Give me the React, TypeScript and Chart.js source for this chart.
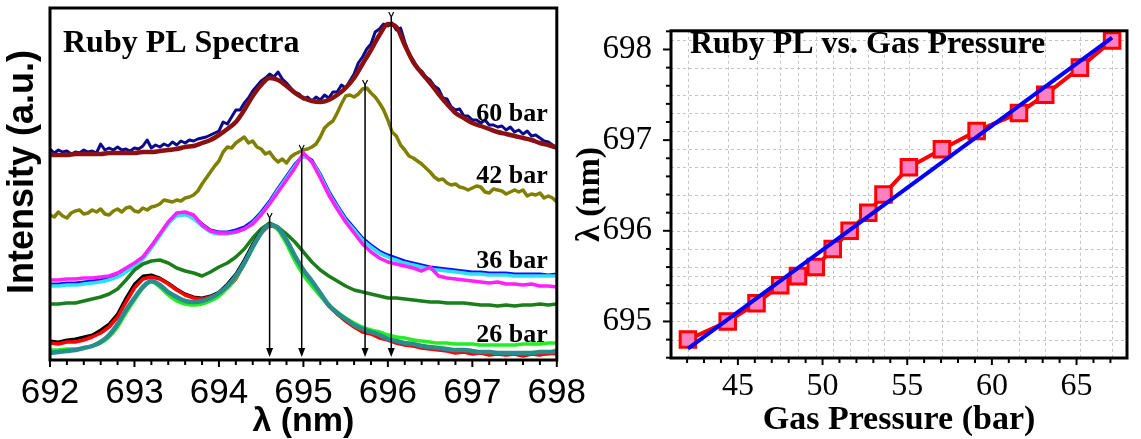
import React, { useEffect, useRef } from 'react';
import { Chart, registerables } from 'chart.js';

Chart.register(...registerables);

// ---------- Left panel: Ruby PL spectra (intensity in arbitrary units) ----------
const LAMBDA_START = 692; // nm, first sample of every spectrum
const STEP_COARSE = 0.1; // nm between samples (61 samples)
const STEP_FINE = 0.05; // nm between samples (121 samples)

// 60 bar: fit (dark red) and measured (navy)
const FIT_60 = [
  205, 205, 205, 206, 206, 206, 206, 207, 207, 207, 207,
  208, 208, 209, 210, 211, 213, 214, 217, 220, 225,
  231, 238, 250, 264, 275, 282, 280, 274, 267, 262,
  259, 258, 260, 265, 272, 282, 296, 310, 325, 336,
  333, 315, 298, 287, 277, 266, 256, 247, 242, 237,
  234, 231, 228, 226, 224, 222, 220, 217, 215, 212,
];
const DATA_60 = [
  211, 207, 210, 208, 209, 206, 208, 207, 210, 208,
  209, 207, 216, 210, 212, 210, 213, 210, 211, 209,
  212, 211, 214, 220, 212, 215, 213, 216, 214, 218,
  215, 219, 217, 220, 219, 221, 222, 223, 225, 227,
  229, 238, 236, 243, 250, 250, 257, 262, 269, 274,
  279, 282, 286, 283, 288, 281, 277, 272, 268, 266,
  261, 263, 259, 263, 260, 265, 262, 268, 268, 275,
  272, 279, 286, 297, 303, 311, 316, 328, 331, 336,
  334, 337, 330, 332, 318, 306, 300, 291, 289, 283,
  280, 274, 271, 262, 261, 253, 250, 251, 244, 244,
  240, 240, 237, 240, 235, 235, 233, 234, 230, 233,
  228, 230, 226, 229, 224, 225, 222, 219, 218, 215,
  213,
];
// 42 bar (olive)
const DATA_42 = [
  145, 143, 148, 144, 142, 147, 149, 150, 146, 147,
  150, 148, 151, 146, 145, 149, 151, 148, 152, 153,
  149, 148, 152, 150, 153, 154, 156, 160, 159, 158,
  160, 159, 162, 163, 165, 169, 176, 182, 188, 194,
  199, 208, 213, 212, 217, 220, 223, 217, 219, 213,
  211, 206, 208, 202, 198, 201, 197, 203, 206, 208,
  210, 211, 213, 216, 223, 232, 236, 239, 247, 256,
  264, 265, 263, 266, 271, 272, 267, 263, 257, 250,
  240, 228, 224, 215, 210, 204, 202, 199, 196, 192,
  188, 183, 180, 181, 177, 175, 176, 173, 172, 170,
  172, 174, 173, 168, 167, 171, 170, 169, 166, 168,
  170, 168, 170, 164, 166, 165, 167, 162, 164, 162,
  158,
];
// 36 bar: magenta, cyan (fit), blue
const DATA_36_MAGENTA = [
  80, 80, 81, 81, 82, 82, 83, 84, 87, 92, 97,
  103, 114, 126, 138, 147, 148, 145, 135, 129, 127,
  127, 128, 131, 136, 145, 156, 168, 180, 192, 207,
  198, 182, 165, 151, 138, 127, 116, 108, 102, 98,
  96, 94, 92, 89, 93, 84, 82, 81, 80, 79,
  78, 77, 78, 76, 76, 75, 76, 74, 74, 73,
];
const FIT_36_CYAN = [
  74, 74, 75, 75, 76, 77, 78, 80, 83, 88, 94,
  101, 112, 124, 136, 144, 145, 141, 134, 128, 126,
  126, 128, 131, 137, 146, 157, 170, 182, 194, 203,
  198, 184, 167, 153, 140, 130, 120, 113, 107, 103,
  100, 97, 95, 93, 91, 90, 89, 88, 87, 86,
  86, 85, 85, 85, 84, 84, 84, 84, 84, 84,
];
const DATA_36_BLUE = [
  76, 76, 77, 77, 78, 79, 80, 82, 85, 90, 96,
  103, 114, 126, 138, 146, 147, 143, 136, 130, 128,
  128, 130, 133, 139, 148, 159, 172, 184, 196, 205,
  200, 186, 169, 155, 142, 132, 122, 115, 109, 105,
  102, 99, 97, 95, 93, 92, 91, 90, 89, 88,
  88, 87, 87, 87, 86, 86, 86, 86, 85, 86,
];
// unlabelled intermediate spectrum (dark green)
const DATA_MID_GREEN = [
  56, 56, 57, 57, 59, 61, 63, 66, 71, 80, 90,
  96, 99, 100, 97, 92, 89, 87, 84, 88, 93,
  97, 103, 111, 122, 131, 137, 133, 126, 118, 108,
  98, 90, 84, 79, 74, 70, 68, 66, 64, 62,
  62, 61, 60, 59, 58, 58, 57, 57, 57, 56,
  55, 55, 54, 55, 54, 55, 55, 56, 55, 56,
];
// 26 bar: teal (fit), light green (fit), red, black
const FIT_26_TEAL = [
  7, 8, 9, 10, 12, 14, 18, 25, 36, 50, 62,
  73, 79, 75, 68, 63, 59, 58, 59, 62, 67,
  74, 84, 97, 113, 127, 135, 132, 120, 104, 90,
  79, 67, 55, 47, 41, 35, 31, 28, 25, 21,
  19, 17, 16, 14, 13, 12, 11, 10, 10, 9,
  8, 8, 7, 7, 7, 7, 7, 8, 8, 9,
];
const FIT_26_GREEN = [
  10, 10, 11, 11, 12, 14, 17, 23, 33, 47, 60,
  72, 78, 73, 65, 59, 56, 55, 56, 59, 64,
  72, 82, 96, 112, 127, 135, 130, 116, 99, 85,
  74, 64, 55, 48, 42, 37, 33, 30, 28, 25,
  23, 22, 20, 19, 18, 17, 17, 16, 16, 16,
  15, 15, 15, 15, 15, 16, 16, 16, 17, 17,
];
const DATA_26_RED = [
  17, 16, 18, 18, 20, 23, 27, 33, 43, 58, 72,
  81, 83, 81, 76, 70, 65, 62, 61, 63, 66,
  72, 81, 96, 113, 127, 135, 132, 120, 104, 90,
  78, 66, 54, 46, 39, 33, 28, 26, 22, 20,
  17, 15, 14, 12, 11, 10, 9, 7, 8, 6,
  7, 5, 6, 5, 6, 4, 6, 5, 7, 6,
];
const DATA_26_BLACK = [
  19, 18, 20, 21, 23, 25, 30, 36, 46, 62, 76,
  84, 85, 82, 77, 71, 66, 63, 62, 64, 68,
  76, 86, 100, 116, 129, 136, 132, 119, 103, 89,
  77, 65, 54, 46, 39, 34, 30, 27, 24, 21,
  19, 17, 15, 13, 12, 11, 10, 9, 9, 8,
  8, 7, 7, 7, 6, 6, 6, 6, 6, 7,
];
// peak positions marked with arrows (nm) and where each arrow starts (intensity)
const PEAK_LAMBDA = [694.6, 694.98, 695.73, 696.04];
const PEAK_TOP = [142, 210, 275, 343];
const SPECTRUM_LABELS = ['60 bar', '42 bar', '36 bar', '26 bar'];
const LABEL_INTENSITY = [239, 177, 92, 18];

// ---------- Right panel: Ruby PL vs gas pressure ----------
const GAS_PRESSURE = [42.05, 44.4, 46.1, 47.5, 48.55, 49.6, 50.6, 51.6, 52.7, 53.6, 55.1, 57.05, 59.1, 61.6, 63.15, 65.2, 67.1];
const PEAK_WAVELENGTH = [694.8, 695.0, 695.2, 695.4, 695.5, 695.6, 695.8, 696.0, 696.2, 696.4, 696.7, 696.9, 697.1, 697.3, 697.5, 697.8, 698.1];
const FIT_PRESSURE = [42.05, 67.1];
const FIT_WAVELENGTH = [694.7, 698.13];

const SANS = '"Liberation Sans", Arial, sans-serif';
const SERIF = '"Liberation Serif", "Times New Roman", serif';

const lambdaAt = (i: number, step: number) => Math.round((LAMBDA_START + i * step) * 100) / 100;
const toXY = (vals: number[], step: number) => vals.map((v, i) => ({ x: lambdaAt(i, step), y: v }));

const line = (vals: number[], step: number, color: string, width: number, smooth: boolean) => ({
  data: toXY(vals, step),
  borderColor: color,
  backgroundColor: color,
  borderWidth: width,
  pointRadius: 0,
  fill: false,
  borderJoinStyle: 'round' as const,
  borderCapStyle: 'round' as const,
  tension: smooth ? 0.4 : 0,
  cubicInterpolationMode: smooth ? ('monotone' as const) : ('default' as const),
});

const leftPlugin = {
  id: 'leftDecor',
  afterDatasetsDraw(chart: any) {
    const { ctx, chartArea: a, scales } = chart;
    const xs = scales.x;
    const ys = scales.y;
    ctx.save();
    ctx.strokeStyle = '#000';
    ctx.fillStyle = '#000';
    PEAK_LAMBDA.forEach((lam, i) => {
      const x = xs.getPixelForValue(lam);
      const yTop = ys.getPixelForValue(PEAK_TOP[i]);
      const yTip = a.bottom - 3;
      ctx.lineWidth = 1.5;
      ctx.beginPath();
      ctx.moveTo(x, yTop);
      ctx.lineTo(x, yTip - 6);
      ctx.stroke();
      ctx.beginPath();
      ctx.moveTo(x - 3.5, yTip - 9);
      ctx.lineTo(x + 3.5, yTip - 9);
      ctx.lineTo(x, yTip);
      ctx.closePath();
      ctx.fill();
      ctx.lineWidth = 1.2;
      ctx.beginPath();
      ctx.moveTo(x - 2.5, yTop - 5);
      ctx.lineTo(x, yTop);
      ctx.lineTo(x + 2.5, yTop - 5);
      ctx.stroke();
    });
    ctx.lineWidth = 3;
    ctx.strokeRect(a.left, a.top, a.right - a.left, a.bottom - a.top);
    ctx.lineWidth = 2;
    for (let k = 0; k <= 30; k++) {
      const x = xs.getPixelForValue(692 + k * 0.2);
      const len = k % 5 === 0 ? 7 : 5;
      ctx.beginPath();
      ctx.moveTo(x, a.bottom);
      ctx.lineTo(x, a.bottom + len);
      ctx.stroke();
    }
    ctx.fillStyle = '#000';
    ctx.textBaseline = 'alphabetic';
    ctx.font = `bold 32px ${SERIF}`;
    ctx.textAlign = 'left';
    ctx.fillText('Ruby PL Spectra', a.left + 13, 52);
    ctx.font = `bold 26px ${SERIF}`;
    ctx.textAlign = 'right';
    SPECTRUM_LABELS.forEach((t, i) => {
      ctx.fillText(t, a.right - 9, ys.getPixelForValue(LABEL_INTENSITY[i]));
    });
    ctx.translate(23, 172);
    ctx.rotate(-Math.PI / 2);
    ctx.font = `bold 36px ${SANS}`;
    ctx.textAlign = 'center';
    ctx.textBaseline = 'middle';
    ctx.fillText('Intensity (a.u.)', 0, 0);
    ctx.restore();
  },
};

const rightPlugin = {
  id: 'rightDecor',
  beforeDatasetsDraw(chart: any) {
    const { ctx, chartArea: a, scales } = chart;
    ctx.save();
    ctx.strokeStyle = '#c4c4c4';
    ctx.lineWidth = 1;
    ctx.setLineDash([3, 3]);
    GAS_PRESSURE.forEach((p) => {
      const x = Math.round(scales.x.getPixelForValue(p)) + 0.5;
      ctx.beginPath();
      ctx.moveTo(x, a.top);
      ctx.lineTo(x, a.bottom);
      ctx.stroke();
    });
    PEAK_WAVELENGTH.forEach((w) => {
      const y = Math.round(scales.y.getPixelForValue(w)) + 0.5;
      ctx.beginPath();
      ctx.moveTo(a.left, y);
      ctx.lineTo(a.right, y);
      ctx.stroke();
    });
    ctx.restore();
  },
  afterDatasetsDraw(chart: any) {
    const { ctx, chartArea: a, scales } = chart;
    ctx.save();
    ctx.strokeStyle = '#000';
    ctx.lineWidth = 3;
    ctx.strokeRect(a.left, a.top, a.right - a.left, a.bottom - a.top);
    ctx.lineWidth = 2;
    for (let k = 0; k <= 18; k++) {
      const v = 694.6 + k * 0.2;
      const y = scales.y.getPixelForValue(v);
      const major = Math.abs(v - Math.round(v)) < 1e-6;
      ctx.beginPath();
      ctx.moveTo(a.left, y);
      ctx.lineTo(a.left - (major ? 8 : 5), y);
      ctx.stroke();
    }
    for (let p = 42; p <= 67; p++) {
      const x = scales.x.getPixelForValue(p);
      ctx.beginPath();
      ctx.moveTo(x, a.bottom);
      ctx.lineTo(x, a.bottom + (p % 5 === 0 ? 7 : 5));
      ctx.stroke();
    }
    ctx.fillStyle = '#000';
    ctx.font = `bold 32px ${SERIF}`;
    ctx.textAlign = 'left';
    ctx.textBaseline = 'alphabetic';
    ctx.fillText('Ruby PL vs. Gas Pressure', a.left + 19, 53);
    ctx.restore();
  },
};

export default function App() {
  const leftRef = useRef<HTMLCanvasElement>(null);
  const rightRef = useRef<HTMLCanvasElement>(null);

  useEffect(() => {
    const left = new Chart(leftRef.current as HTMLCanvasElement, {
      type: 'line',
      data: {
        datasets: [
          line(FIT_26_TEAL, STEP_COARSE, '#2a8c8c', 4.5, true),
          line(FIT_26_GREEN, STEP_COARSE, '#22ee22', 3.5, true),
          line(DATA_26_RED, STEP_COARSE, '#ff0000', 3.5, false),
          line(DATA_26_BLACK, STEP_COARSE, '#000000', 3, false),
          line(DATA_MID_GREEN, STEP_COARSE, '#1a7f1a', 3.5, false),
          line(DATA_36_MAGENTA, STEP_COARSE, '#ff20ff', 3.5, false),
          line(FIT_36_CYAN, STEP_COARSE, '#30e0f0', 3.5, true),
          line(DATA_36_BLUE, STEP_COARSE, '#1010ff', 3, false),
          line(FIT_60, STEP_COARSE, '#8b1010', 4.5, true),
          line(DATA_60, STEP_FINE, '#0a0a8c', 3, false),
          line(DATA_42, STEP_FINE, '#808000', 3.5, false),
        ] as any,
      },
      options: {
        animation: false,
        responsive: true,
        maintainAspectRatio: false,
        events: [],
        layout: { padding: { left: 50, right: 33, top: 8, bottom: 0 } },
        plugins: { legend: { display: false }, tooltip: { enabled: false } },
        scales: {
          x: {
            type: 'linear',
            min: 692,
            max: 698,
            grid: { display: false },
            border: { display: false },
            ticks: {
              stepSize: 1,
              padding: 4,
              color: '#000',
              autoSkip: false,
              maxRotation: 0,
              font: { family: SANS, size: 35 },
            },
            title: {
              display: true,
              text: 'λ (nm)',
              color: '#000',
              font: { family: SANS, size: 34, weight: 'bold', lineHeight: 1.2 },
              padding: { top: 0, bottom: -3 },
            },
            afterFit: (s: any) => {
              s.height = 79;
            },
          },
          y: { type: 'linear', display: false, min: 0, max: 352 },
        },
      } as any,
      plugins: [leftPlugin],
    });

    const right = new Chart(rightRef.current as HTMLCanvasElement, {
      type: 'line',
      data: {
        datasets: [
          {
            data: FIT_PRESSURE.map((p, i) => ({ x: p, y: FIT_WAVELENGTH[i] })),
            borderColor: '#0000ff',
            borderWidth: 4,
            pointRadius: 0,
            fill: false,
          },
          {
            data: GAS_PRESSURE.map((p, i) => ({ x: p, y: PEAK_WAVELENGTH[i] })),
            borderColor: '#ff0000',
            borderWidth: 4,
            pointStyle: 'rect',
            pointRadius: 11,
            pointBorderWidth: 3,
            pointBorderColor: '#ff0000',
            pointBackgroundColor: '#ff80c0',
            fill: false,
            clip: false,
          },
        ] as any,
      },
      options: {
        animation: false,
        responsive: true,
        maintainAspectRatio: false,
        events: [],
        layout: { padding: { left: 0, right: 6, top: 8, bottom: 0 } },
        plugins: { legend: { display: false }, tooltip: { enabled: false } },
        scales: {
          x: {
            type: 'linear',
            min: 41.05,
            max: 67.98,
            grid: { display: false },
            border: { display: false },
            ticks: {
              stepSize: 5,
              includeBounds: false,
              padding: 1,
              color: '#000',
              maxRotation: 0,
              autoSkip: false,
              font: { family: SERIF, size: 32 },
            },
            title: {
              display: true,
              text: 'Gas Pressure (bar)',
              color: '#000',
              font: { family: SERIF, size: 34, weight: 'bold', lineHeight: 1.2 },
              padding: { top: 0, bottom: -2 },
            },
            afterFit: (s: any) => {
              s.height = 81;
            },
          },
          y: {
            type: 'linear',
            min: 694.597,
            max: 698.206,
            grid: { display: false },
            border: { display: false },
            ticks: {
              stepSize: 1,
              includeBounds: false,
              padding: 11,
              color: '#000',
              autoSkip: false,
              font: { family: SERIF, size: 33 },
            },
            title: {
              display: true,
              text: 'λ (nm)',
              color: '#000',
              font: { family: SERIF, size: 34, weight: 'bold', lineHeight: 1.2 },
              padding: { top: 0, bottom: 0 },
            },
            afterFit: (s: any) => {
              s.width = 101;
            },
          },
        },
      } as any,
      plugins: [rightPlugin],
    });

    return () => {
      left.destroy();
      right.destroy();
    };
  }, []);

  return (
    <div style={{ position: 'fixed', left: 0, top: 0, width: 1141, height: 439, background: '#fff', overflow: 'hidden' }}>
      <div style={{ position: 'absolute', left: 0, top: 0, width: 590, height: 439 }}>
        <canvas ref={leftRef} />
      </div>
      <div style={{ position: 'absolute', left: 570, top: 0, width: 571, height: 439 }}>
        <canvas ref={rightRef} />
      </div>
    </div>
  );
}
